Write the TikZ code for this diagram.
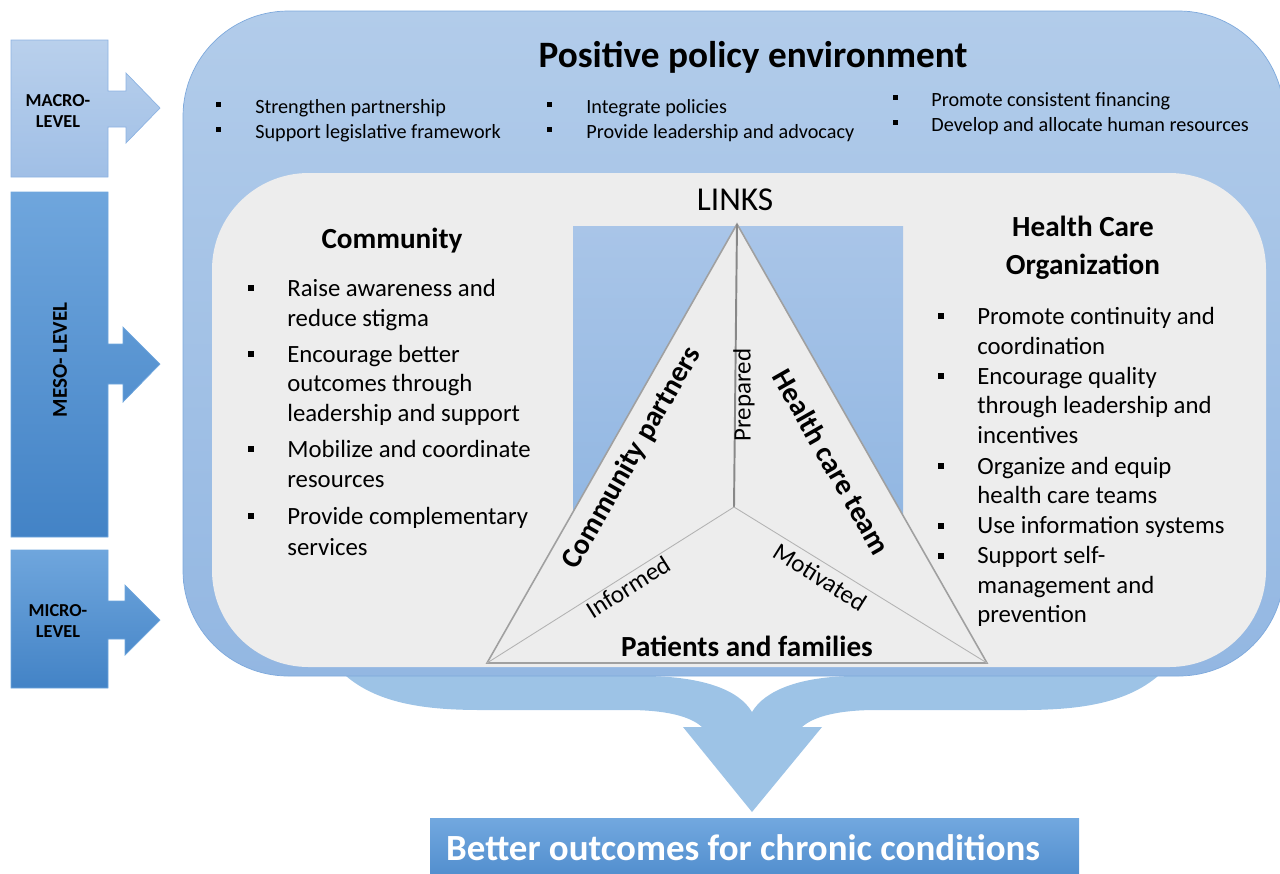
\documentclass[tikz,border=0pt]{standalone}
\usepackage{fontspec}
\setmainfont{Carlito}
\definecolor{macrotop}{HTML}{B9D0EC}
\definecolor{macrobot}{HTML}{A0BFE6}
\definecolor{macroline}{HTML}{8DB3E2}
\definecolor{mesotop}{HTML}{6FA6DD}
\definecolor{mesobot}{HTML}{4383C6}
\definecolor{outertop}{HTML}{B2CCEA}
\definecolor{outerbot}{HTML}{93B7E2}
\definecolor{outerline}{HTML}{7EA9DC}
\definecolor{innerfill}{HTML}{EDEDED}
\definecolor{linkstop}{HTML}{A9C5E8}
\definecolor{linksbot}{HTML}{92B7E2}
\definecolor{bracefill}{HTML}{9DC3E6}
\definecolor{trigray}{HTML}{A0A0A0}
\definecolor{outtop}{HTML}{72A8DF}
\definecolor{outbot}{HTML}{4A88CA}

\tikzset{
	levellabel/.style={font=\bfseries\fontsize{10.4}{11.6}\selectfont, align=center},
	toptxt/.style={font=\fontsize{11.5}{13}\selectfont, anchor=west, text height=0.62em, text depth=0pt, inner sep=0pt, yshift=-1.1pt},
	listtxt/.style={font=\fontsize{14.1}{16}\selectfont, anchor=west, text height=0.62em, text depth=0pt, inner sep=0pt, yshift=-1.3pt},
	headtxt/.style={font=\bfseries\fontsize{16.6}{21.6}\selectfont, align=center},
	smallsq/.style={fill=black, inner sep=0pt, minimum size=0.1cm},
	bigsq/.style={fill=black, inner sep=0pt, minimum size=0.13cm},
	edgetxt/.style={font=\fontsize{14.2}{16}\selectfont},
	sidetxt/.style={font=\bfseries\fontsize{16.6}{18}\selectfont}
}

\begin{document}
\begin{tikzpicture}[x=0.02cm,y=-0.02cm]
	\useasboundingbox (0,0) rectangle (1280,873);
	\clip (0,0) rectangle (1280,873);

	% level arrows on the left
	\path[draw=macroline, top color=macrotop, bottom color=macrobot] (11,40) -- (108,40) -- (108,91) -- (126,91) -- (126,73) -- (160,108) -- (126,143) -- (126,127) -- (108,127) -- (108,177) -- (11,177) -- cycle;
	\path[draw=mesotop, top color=mesotop, bottom color=mesobot] (11,192) -- (108,192) -- (108,344) -- (123,344) -- (123,327) -- (160,364) -- (123,402) -- (123,384) -- (108,384) -- (108,537) -- (11,537) -- cycle;
	\path[draw=mesotop, top color=mesotop, bottom color=mesobot] (11,550) -- (108,550) -- (108,601) -- (125,601) -- (125,585) -- (160,620) -- (125,655) -- (125,639) -- (108,639) -- (108,688) -- (11,688) -- cycle;

	\node[levellabel] (macro) at (58,111) {MACRO-\\LEVEL};
	\node[levellabel, font=\bfseries\fontsize{12}{14}\selectfont, rotate=90] (meso) at (60,360) {MESO- LEVEL};
	\node[levellabel] (micro) at (58,621) {MICRO-\\LEVEL};

	% bracket and arrow down to outcomes
	\path[fill=bracefill] (346,676) .. controls (380,705) and (430,710) .. (482,710) -- (628,710) .. controls (665,710) and (690,716) .. (702,727) -- (683,727) -- (752,812) -- (822,727) -- (802,727) .. controls (814,716) and (840,710) .. (876,710) -- (1022,710) .. controls (1074,710) and (1124,705) .. (1158,676) -- (851,676) .. controls (800,677) and (765,690) .. (752,712) .. controls (739,690) and (704,677) .. (648,676) -- cycle;

	% policy environment
	\path[draw=outerline, top color=outertop, bottom color=outerbot, rounded corners=60] (183,11) rectangle (1284,676);

	\node[font=\bfseries\fontsize{21.2}{25}\selectfont] (title) at (753,57) {Positive policy environment};

	\node[smallsq] at (218,104) {};
	\node[smallsq] at (218,129) {};
	\node[toptxt] (p1) at (255,106) {Strengthen partnership};
	\node[toptxt] (p2) at (255,131) {Support legislative framework};
	\node[smallsq] at (549,104) {};
	\node[smallsq] at (549,129) {};
	\node[toptxt] (p3) at (586,106) {Integrate policies};
	\node[toptxt] (p4) at (586,131) {Provide leadership and advocacy};
	\node[smallsq] at (895,97) {};
	\node[smallsq] at (895,122) {};
	\node[toptxt] (p5) at (931,99) {Promote consistent financing};
	\node[toptxt] (p6) at (931,124) {Develop and allocate human resources};

	% community and health care organization
	\path[fill=innerfill, rounded corners=55] (212,173) rectangle (1266,667);
	\path[top color=linkstop, bottom color=linksbot] (573,226) rectangle (903,514);

	\node[headtxt] (community) at (392,241) {Community};
	\foreach \y in {288,354,449,516}
		\node[bigsq] at (251,\y) {};
	\foreach \y/\t in {289/Raise awareness and, 319/reduce stigma, 355/Encourage better, 384/outcomes through, 414/leadership and support, 450/Mobilize and coordinate, 480/resources, 517/Provide complementary, 548/services}
		\node[listtxt] at (287,\y) {\t};

	\node[headtxt, font=\bfseries\fontsize{16.6}{21.8}\selectfont] (hco) at (1083,248) {Health Care\\Organization};
	\foreach \y in {316,376,466,526,556}
		\node[bigsq] at (941,\y) {};
	\foreach \y/\t in {317/Promote continuity and, 347/coordination, 377/Encourage quality, 406/through leadership and, 436/incentives, 467/Organize and equip, 496/health care teams, 526/Use information systems, 556/Support self-, 586/management and, 615/prevention}
		\node[listtxt] at (977,\y) {\t};

	% links triangle
	\coordinate (top) at (737,224);
	\coordinate (left) at (487,663);
	\coordinate (right) at (987,663);
	\coordinate (mid) at (734,507);
	\path[fill=innerfill, draw=trigray, line width=0.9pt] (top) -- (left) -- (right) -- cycle;
	\draw[trigray!85!black, line width=1.1pt] (top) -- (mid);
	\draw[trigray!80, line width=0.5pt] (mid) -- (left);
	\draw[trigray!80, line width=0.5pt] (mid) -- (right);

	\node[font=\fontsize{19}{21}\selectfont] (links) at (735,200) {LINKS};
	\node[sidetxt, rotate=60.3] (partners) at (632,458) {Community partners};
	\node[sidetxt, rotate=-60.3] (team) at (832,462) {Health care team};
	\node[sidetxt] (patients) at (747,646) {Patients and families};
	\node[edgetxt, rotate=90] (prepared) at (744,395) {Prepared};
	\node[edgetxt, rotate=32] (informed) at (628,587) {Informed};
	\node[edgetxt, rotate=-32] (motivated) at (820,577) {Motivated};

	% outcomes
	\path[top color=outtop, bottom color=outbot] (430,818) rectangle (1079,890);
	\node[font=\bfseries\fontsize{21}{25}\selectfont, text=white, anchor=west] (outcomes) at (440,848) {Better outcomes for chronic conditions};
\end{tikzpicture}
\end{document}
